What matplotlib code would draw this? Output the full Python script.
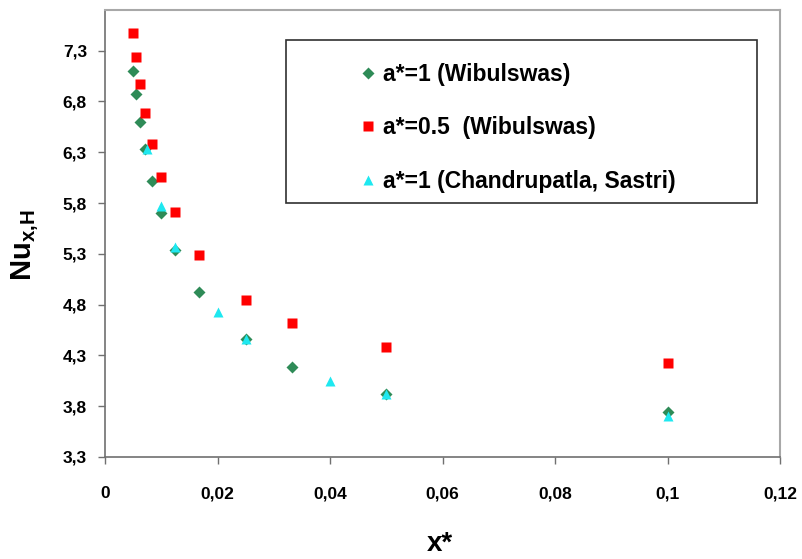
import matplotlib
matplotlib.use('Agg')
from matplotlib import pyplot as plt
from matplotlib.patches import Rectangle
from matplotlib.ticker import FuncFormatter

plt.rcParams['font.family'] = ['Liberation Sans', 'DejaVu Sans']
plt.rcParams['font.weight'] = 'bold'
plt.rcParams['mathtext.fontset'] = 'custom'
plt.rcParams['mathtext.rm'] = 'Liberation Sans:bold'
plt.rcParams['mathtext.bf'] = 'Liberation Sans:bold'

# Wibulswas, a*=1 and a*=0.5
x_wib = [0.005, 0.00556, 0.00625, 0.00714, 0.00833, 0.01, 0.0125, 0.0167, 0.025, 0.0333, 0.05, 0.1]
nu_a1_wib = [7.10, 6.87, 6.60, 6.33, 6.02, 5.70, 5.34, 4.92, 4.46, 4.19, 3.92, 3.74]
nu_a05_wib = [7.47, 7.24, 6.97, 6.69, 6.38, 6.06, 5.71, 5.29, 4.85, 4.62, 4.38, 4.23]

# Chandrupatla, Sastri, a*=1
x_cs = [0.0075, 0.01, 0.0125, 0.02, 0.025, 0.04, 0.05, 0.1]
nu_a1_cs = [6.33, 5.77, 5.37, 4.73, 4.46, 4.05, 3.92, 3.70]

labels = ['a*=1 (Wibulswas)', 'a*=0.5  (Wibulswas)', 'a*=1 (Chandrupatla, Sastri)']
x_ticks = [0, 0.02, 0.04, 0.06, 0.08, 0.1, 0.12]
y_ticks = [3.3, 3.8, 4.3, 4.8, 5.3, 5.8, 6.3, 6.8, 7.3]

fig = plt.figure(figsize=(8.03, 5.59), dpi=100)
ax = fig.add_axes([0.1308, 0.1825, 0.8406, 0.7996])

ax.plot(x_wib, nu_a1_wib, 'D', ms=6.5, color='#2E8B57', mec='none', label=labels[0])
ax.plot(x_wib, nu_a05_wib, 's', ms=6.8, color='#FF0000', mec='none', label=labels[1])
ax.plot(x_cs, nu_a1_cs, '^', ms=7.5, color='#1EE8F0', mec='none', label=labels[2])

ax.set_xlim(0, 0.12)
ax.set_ylim(3.3, 7.7)
ax.set_xticks(x_ticks)
ax.set_yticks(y_ticks)
fmt = FuncFormatter(lambda v, p: ('%g' % v).replace('.', ','))
ax.xaxis.set_major_formatter(fmt)
ax.yaxis.set_major_formatter(fmt)
ax.tick_params(axis='both', labelsize=12.5, length=5, width=1, color='#707070', direction='out')
ax.tick_params(axis='x', pad=16)
ax.tick_params(axis='y', pad=8)

for s in ['left', 'bottom']:
    ax.spines[s].set_color('#707070')
    ax.spines[s].set_linewidth(1.2)
for s in ['top', 'right']:
    ax.spines[s].set_color('#A8A8A8')
    ax.spines[s].set_linewidth(1.5)

# legend box
ax.add_patch(Rectangle((0.268, 0.568), 0.698, 0.365, transform=ax.transAxes,
                       facecolor='white', edgecolor='#303030', linewidth=1.2, zorder=4))
leg = ax.legend(loc='upper left', bbox_to_anchor=(0.378, 0.881), frameon=False,
                fontsize=16.5, labelspacing=1.32, handlelength=0.68, handletextpad=0.31,
                borderpad=0, borderaxespad=0, numpoints=1)
leg.set_zorder(5)

fig.text(0.031, 0.562, r'$\mathrm{Nu}_{\mathrm{x{,}H}}$', rotation=90, fontsize=21,
         ha='center', va='center')
fig.text(0.548, 0.027, 'x*', fontsize=20, ha='center', va='center')

plt.savefig('out.png', dpi=100)
